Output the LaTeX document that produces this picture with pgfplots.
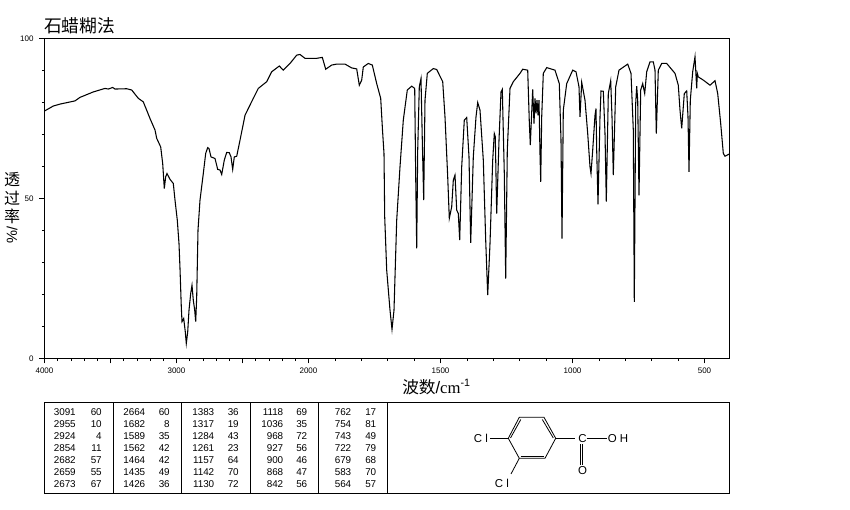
\documentclass[border=0pt]{standalone}
\usepackage{pgfplots}
\pgfplotsset{compat=1.18}
\usepackage{fontspec}
\setmainfont{Liberation Sans}
\newfontfamily\cjk{Noto Sans CJK SC}
\newfontfamily\lser{Liberation Serif}
% x is the horizontal chart position: 4000-2000 cm-1 takes half the scale of 2000-400 cm-1
\pgfplotstableread{
x T
44.3 77.3
53.3 78.9
60 79.5
75 80.5
80 81.6
93.3 83.3
105 84.4
108.3 84.2
112.7 84.7
115 84.2
126.7 84.3
131.7 83.9
138.3 81.3
143.3 80.2
150 75
155 71.4
156.7 68.8
160.7 66.1
162.7 60.9
164.3 53.1
165.7 56.8
167 57.8
170 56
173.3 54.7
175 49.5
177.3 43.2
179 35.9
180 28.1
181.3 16.1
182 11.5
183.7 12.5
185.3 8.3
186.3 4.7
187.7 8.3
189 15.1
190.7 20.3
192 22.9
193.3 18.2
194.7 15.1
195.7 11.5
196.7 19.3
198 40.1
200 49.5
203.3 57.8
205.7 64.1
207.7 65.9
209 65.6
211 63
215 62.5
217.7 59.1
220 58.9
221.7 57.5
224.3 62
226.7 64.4
229.3 64.3
231 63
232.7 59.1
234.3 63
236.7 63.2
240 68.2
245 76
253.3 81.3
258.3 84.4
266.7 86.5
271.7 89.6
279.3 91.4
283.3 90.1
290 92.2
296.7 94.8
300 95
305 93.8
316.7 93.8
322.3 94.1
325.7 90.4
331.7 91.7
336.7 92
345 92
351.7 90.8
356.7 90.5
359.3 85.4
361.7 87
363.3 91.1
368.3 92.2
372.3 91.7
376.7 85.9
380.7 81.3
382.5 71.4
384 64
384.7 44.3
386.7 27.6
390 15.1
392 9.1
394 15.1
396.7 43.2
400 59.9
403.3 74.5
407.3 83.9
411.7 85.1
414.7 84.4
415.7 56.8
416.7 34.4
417.7 65.1
419.3 84.9
421 87.5
422.3 68.2
423.7 49.5
425 80.7
427.3 89.1
433.3 90.6
436.7 90.3
442.7 86.5
445 75.5
447.7 56.8
449.3 43.8
451.7 47.4
453.3 55.7
455 57.3
456.7 46.4
458.3 45.3
459.7 37
461.7 59.9
464.3 74.5
466.7 75.3
469 63
470.7 36.1
473.3 63
476 75.5
477.7 80
480 77.6
483.3 62
485.7 37
487.7 19.8
490 35.9
492.7 62
494.3 70.3
495.3 69.3
496.7 45.3
499 68.2
501 83.3
502.3 84.1
504.3 57.8
505.7 25
507.3 65.1
510 84.4
513.3 86.5
520 89.1
522.7 90.4
527.7 90.1
529.3 74
530.3 66.7
531.3 74
532.7 84.1
534 73.4
535 81.3
536 76.6
537 80.7
538 76
539 80.7
540 64
540.7 55.2
541.7 75.5
543.3 89.1
546.7 90.9
555 90.1
559.3 85.9
561 68.2
562 37.5
563.3 77.6
566.7 85.9
572.7 90.1
576 89.6
579 84.9
580 75.5
581.7 86.3
585 80.7
587.7 70.3
590 59.9
591 57.8
592.7 65.1
595 76
596 78.1
596.7 65.1
598 48.2
600 75.5
601 83.6
603.3 83.5
605 70.3
606.3 49
608.3 82.8
610.7 86.8
612 75.5
613.3 57.3
615.7 84.9
619 90.1
627.7 92
631 89.1
633.3 71.4
634.3 17.7
635.7 79.7
636.7 85.1
637.7 80.7
639 51
640.7 83.9
642.7 85.9
644.7 82.8
646.7 89.6
650 92.7
653.3 92.7
655 90.1
656.3 70.3
658.3 90.1
661.7 92.2
666.7 92.2
675 89.1
678.3 85.4
680 77.6
681.7 71.9
684.3 82.8
686.7 83.6
688 75.5
689 58.3
690.3 80.7
692.7 89.6
695 94.3
696.7 84.4
697.3 89.1
698.3 88
703.3 87
710 85.4
715 86.8
717.7 82.8
720.7 73.4
723.3 64.1
725 63.2
729.3 63.9
}\spectrum
\newcommand{\col}[3]{%
  \foreach \a/\b/\yy in {#3}{%
    \node[anchor=east,inner sep=0,font=\fontsize{7.4}{8}\selectfont] at (#1,\yy) {\a};
    \node[anchor=east,inner sep=0,font=\fontsize{7.4}{8}\selectfont] at (#2,\yy) {\b};
  }}
\begin{document}
\begin{tikzpicture}
\path (0,0) rectangle (637.5pt,382.5pt);
\begin{axis}[
  at={(33.375pt,113.625pt)}, anchor=south west,
  scale only axis, width=513.75pt, height=240pt,
  xmin=44.5, xmax=729.5, ymin=0, ymax=100,
  axis line style={line width=0.75pt},
  tick align=outside, xtick pos=bottom, ytick pos=left,
  xtick={44.5,110.5,176.5,242.5,308.5,440.5,572.5,704.5},
  xticklabels={4000,,3000,,2000,1500,1000,500},
  minor xtick={57.7,70.9,84.1,97.3,123.7,136.9,150.1,163.3,189.7,202.9,216.1,229.3,255.7,268.9,282.1,295.3,334.9,361.3,387.7,414.1,466.9,493.3,519.7,546.1,598.9,625.3,651.7,678.1},
  ytick={0,50,100},
  yticklabels={0,50,100},
  minor ytick={10,20,30,40,60,70,80,90},
  major tick length=3.75pt, minor tick length=2pt,
  tick style={line width=0.6pt,black},
  ticklabel style={font=\fontsize{6}{7}\selectfont},
  yticklabel style={xshift=-1pt},
]
\addplot[black, line width=0.8pt, line join=miter] table[x=x,y=T] {\spectrum};
\end{axis}
\begin{scope}[yshift=382.5pt,x=0.75pt,y=-0.75pt]
% title and axis titles
\node[anchor=west,inner sep=0,font=\fontsize{13.3}{14}\selectfont\cjk] at (44,26) {石蜡糊法};
\node[inner sep=0,font=\fontsize{12}{13}\selectfont\cjk] at (12,180) {透};
\node[inner sep=0,font=\fontsize{12}{13}\selectfont\cjk] at (12,198) {过};
\node[inner sep=0,font=\fontsize{12}{13}\selectfont\cjk] at (12,216) {率};
\node[inner sep=0,rotate=-90,font=\fontsize{11}{13}\selectfont] at (12,235) {/\%};
\node[anchor=west,inner sep=0,font=\fontsize{12.5}{14}\selectfont] at (402,387) {{\cjk 波数}/{\lser cm}\raisebox{0.45em}{\fontsize{8}{9}\selectfont -1}};
% table frame
\draw[line width=0.75pt] (44.5,402.5) rectangle (729.5,494);
\foreach \xx in {113.5,181.5,250,318,387.5} \draw[line width=0.75pt] (\xx,402.5) -- (\xx,494);
% table text
\col{76}{102}{3091/60/411.7,2955/10/424,2924/4/436,2854/11/448.3,2682/57/460.3,2659/55/472.3,2673/67/484.3}
\col{145.5}{170}{2664/60/411.7,1682/8/424,1589/35/436,1562/42/448.3,1464/42/460.3,1435/49/472.3,1426/36/484.3}
\col{214.5}{239}{1383/36/411.7,1317/19/424,1284/43/436,1261/23/448.3,1157/64/460.3,1142/70/472.3,1130/72/484.3}
\col{283.5}{307.5}{1118/69/411.7,1036/35/424,968/72/436,927/56/448.3,900/46/460.3,868/47/472.3,842/56/484.3}
\col{351.5}{376.5}{762/17/411.7,754/81/424,743/49/436,722/79/448.3,679/68/460.3,583/70/472.3,564/57/484.3}
% molecule
\begin{scope}[line width=0.6pt]
\draw (519.3,417.3) -- (544,417.3) -- (555.7,438.3) -- (545,458.3) -- (519.3,458.3) -- (508.3,438.3) -- cycle;
\draw (510.5,438) -- (520.8,419.5);
\draw (542.3,419.5) -- (553.3,438);
\draw (520.5,456.5) -- (544,456.5);
\draw (508.3,438.3) -- (490,438.3);
\draw (519.3,458.3) -- (511,474);
\draw (555.7,438.3) -- (575,438.3);
\draw (586.5,438.3) -- (606.5,438.3);
\draw (580,444.5) -- (580,465);
\draw (582.8,444.5) -- (582.8,465);
\end{scope}
\begin{scope}[every node/.style={inner sep=0,font=\fontsize{8.6}{9}\selectfont}]
\node at (481,438.3) {C l};
\node at (502,483.5) {C l};
\node at (582.5,438.3) {C};
\node at (618,438.3) {O H};
\node at (582.5,471) {O};
\end{scope}
\end{scope}
\end{tikzpicture}
\end{document}
